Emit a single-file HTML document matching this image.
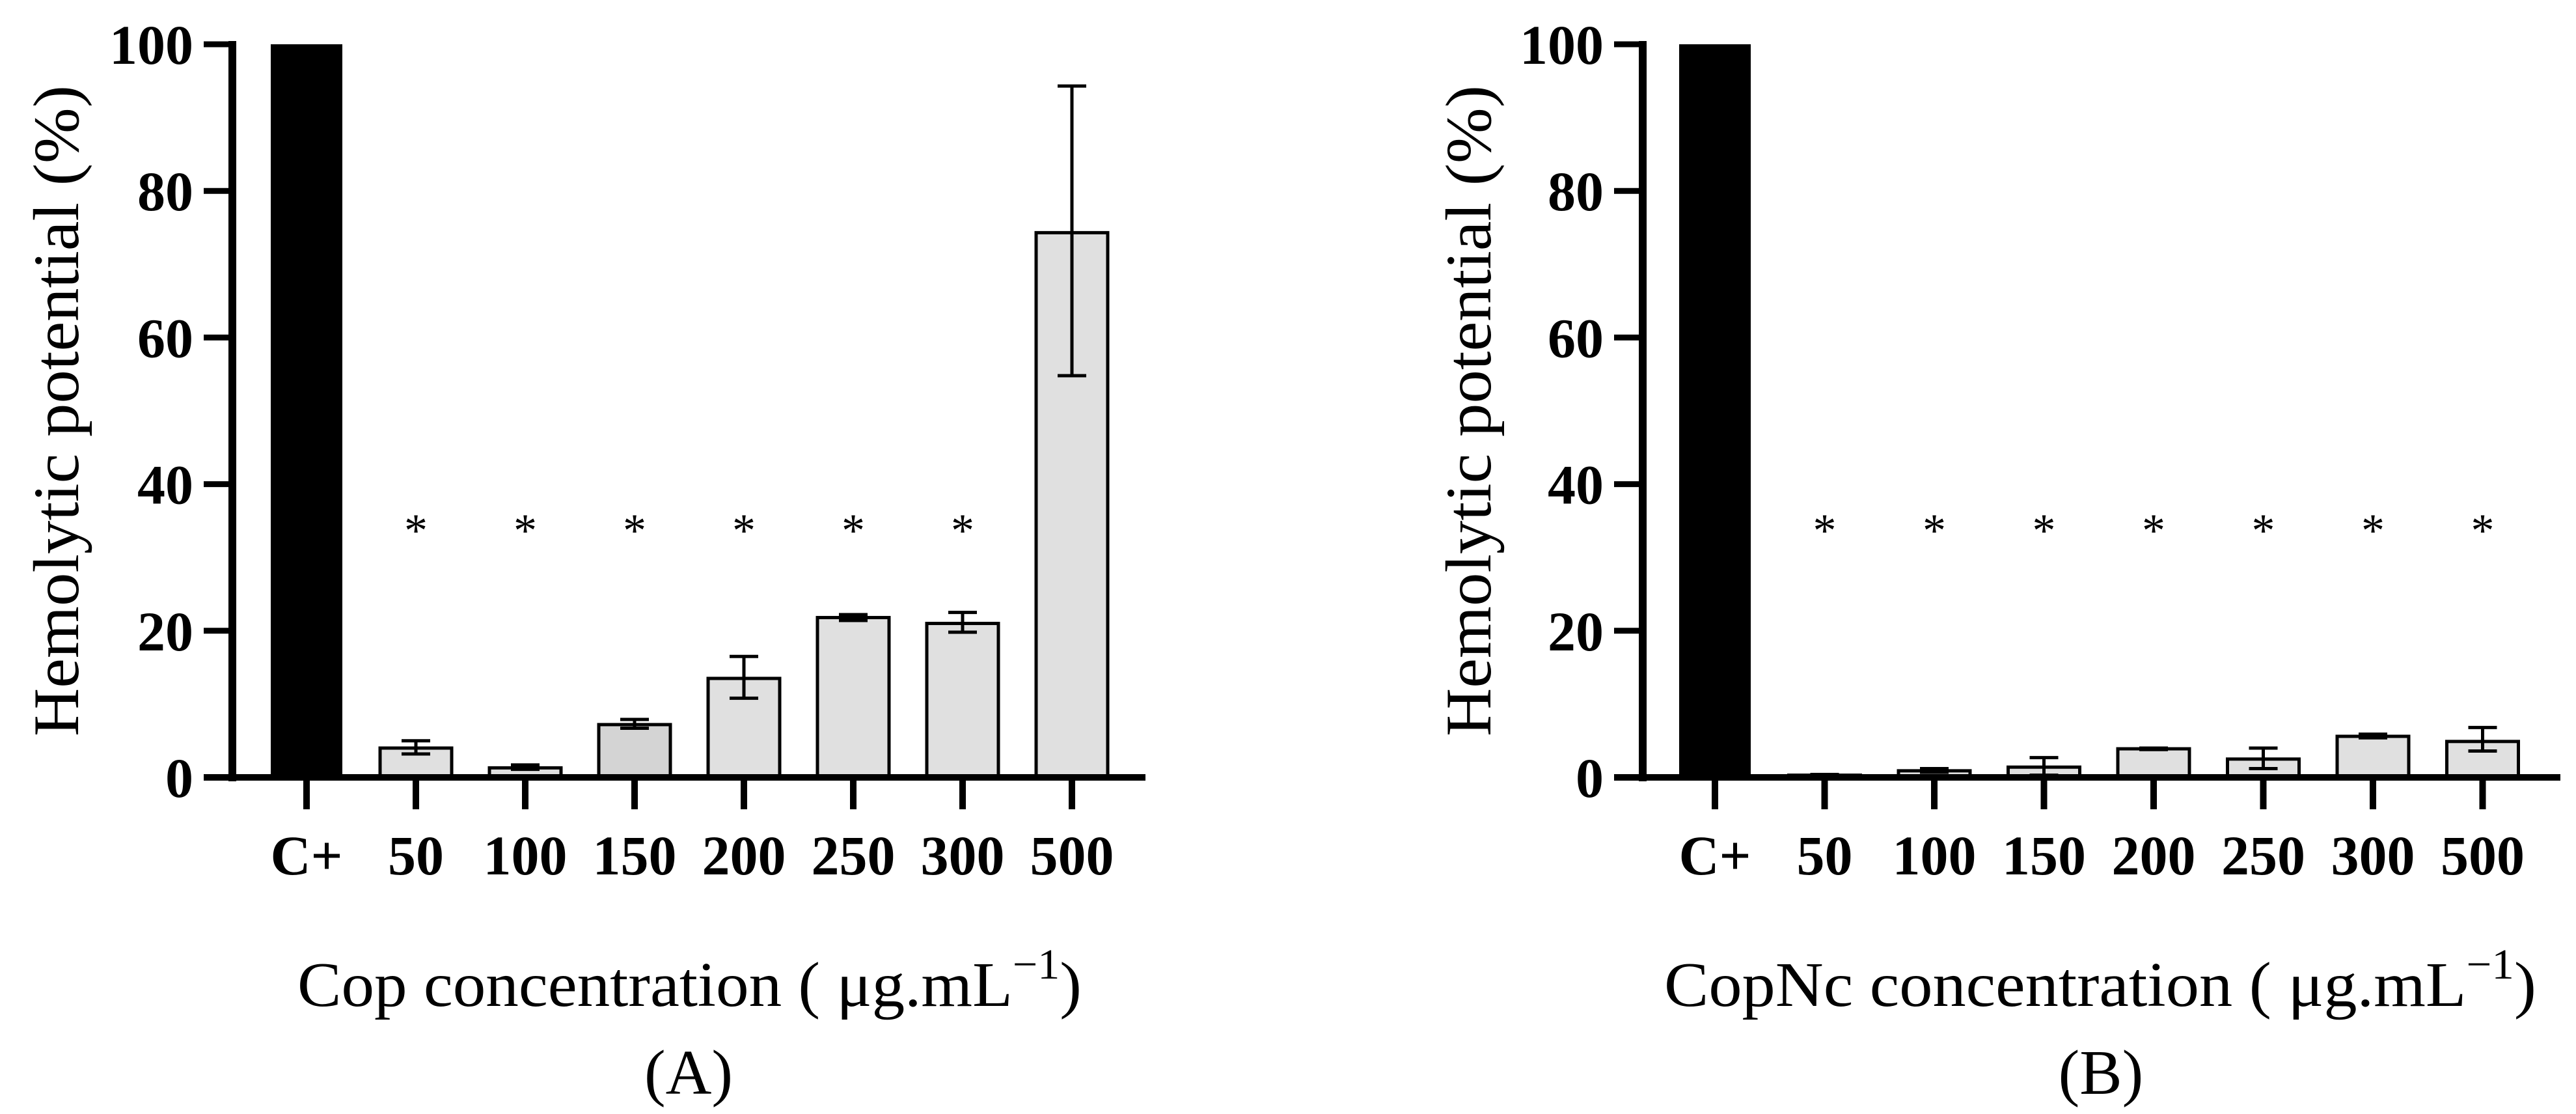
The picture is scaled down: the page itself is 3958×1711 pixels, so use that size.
<!DOCTYPE html>
<html><head><meta charset="utf-8"><style>
html,body{margin:0;padding:0;background:#fff}
svg{display:block}
text{font-family:"Liberation Serif",serif;fill:#000}
</style></head><body>
<svg id="fig" width="3958" height="1711" viewBox="0 0 3958 1711" xmlns="http://www.w3.org/2000/svg"></svg>
<script>
const categories = ["C+","50","100","150","200","250","300","500"];
const yTicks = [0,20,40,60,80,100];
const valuesA = [100,4.0,1.3,7.2,13.5,21.8,21.0,74.3];
const errLowA = [100,3.2,1.1,6.7,10.8,21.4,19.8,54.8];
const errHighA = [100,5.0,1.7,7.9,16.5,22.2,22.5,94.3];
const starsA = [false,true,true,true,true,true,true,false];
const valuesB = [100,0.3,0.9,1.4,3.9,2.5,5.6,4.9];
const errLowB = [100,0.2,0.7,0.3,3.8,1.2,5.4,3.6];
const errHighB = [100,0.4,1.2,2.7,4.0,4.0,5.9,6.8];
const starsB = [false,true,true,true,true,true,true,true];

const NS="http://www.w3.org/2000/svg";
const svg=document.getElementById('fig');
function mk(tag,attrs,parent){const e=document.createElementNS(NS,tag);for(const k in attrs)e.setAttribute(k,attrs[k]);(parent||svg).appendChild(e);return e;}

function panel(o){
  const g=mk('g',{});
  
  
  const y0=1194, y100=68;
  const ys=v=>y0-(y0-y100)*v/100;
  const xs=i=>o.c0+i*o.step;
  const bw=110;
  categories.forEach((c,i)=>{
    const v=o.vals[i];
    const r=mk('rect',{x:xs(i)-bw/2,y:ys(v),width:bw,height:y0-ys(v),
      fill:i===0?'#000':(i===3&&o.id==='panel-a'?'#d4d4d4':'#e0e0e0'),
      stroke:'#000','stroke-width':i===0?0:5},g);
    
    
    if(i>0){
      const hi=ys(o.hi[i]), lo=ys(o.lo[i]);
      const eb=mk('path',{d:`M${xs(i)} ${hi}V${lo}M${xs(i)-22} ${hi}H${xs(i)+22}M${xs(i)-22} ${lo}H${xs(i)+22}`,stroke:'#000','stroke-width':5,fill:'none'},g);
      
      
    }
    if(o.stars[i]){
      const s=mk('text',{x:xs(i),y:ys(34)+28,'font-size':72,'text-anchor':'middle'},g);
      s.textContent='*';
      
      
    }
    mk('line',{x1:xs(i),y1:y0,x2:xs(i),y2:1243,stroke:'#000','stroke-width':10},g);
    const t=mk('text',{x:xs(i),y:1343,'font-size':86,'font-weight':'bold','text-anchor':'middle'},g);
    t.textContent=c;
    
    
  });
  mk('line',{x1:o.ax,y1:y100-5,x2:o.ax,y2:y0+6,stroke:'#000','stroke-width':12},g);
  mk('line',{x1:o.ts,y1:y0,x2:o.xend,y2:y0,stroke:'#000','stroke-width':10},g);
  yTicks.forEach(v=>{
    mk('line',{x1:o.ts,y1:ys(v),x2:o.ax,y2:ys(v),stroke:'#000','stroke-width':9},g);
    const t=mk('text',{x:o.ts-16,y:ys(v)+30,'font-size':86,'font-weight':'bold','text-anchor':'end'},g);
    t.textContent=v;
    
    
  });
  const yt=mk('text',{x:0,y:0,'font-size':100,'text-anchor':'middle',textLength:1000,lengthAdjust:'spacingAndGlyphs',transform:`translate(${o.ytx},631) rotate(-90)`},g);
  yt.textContent='Hemolytic potential (%)';
  
  
  const xt=mk('text',{x:o.xtl,y:1545,'font-size':98,textLength:o.xtw,lengthAdjust:'spacingAndGlyphs'},g);
  xt.innerHTML=o.name+' concentration ( μg.mL<tspan dy="-42" font-size="66">−1</tspan><tspan dy="42">)</tspan>';
  
  
  const lb=mk('text',{x:o.lbx,y:1680,'font-size':98,'text-anchor':'middle'},g);
  lb.textContent=o.label;
  
  
}
panel({id:'panel-a',vals:valuesA,lo:errLowA,hi:errHighA,stars:starsA,c0:471,step:168,ax:357,ts:313,xend:1760,ytx:120,xtl:457,xtw:1205,name:'Cop',label:'(A)',lbx:1058});
panel({id:'panel-b',vals:valuesB,lo:errLowB,hi:errHighB,stars:starsB,c0:2635,step:168.5,ax:2524,ts:2480,xend:3934,ytx:2290,xtl:2557,xtw:1340,name:'CopNc',label:'(B)',lbx:3228});
</script>
</body></html>
